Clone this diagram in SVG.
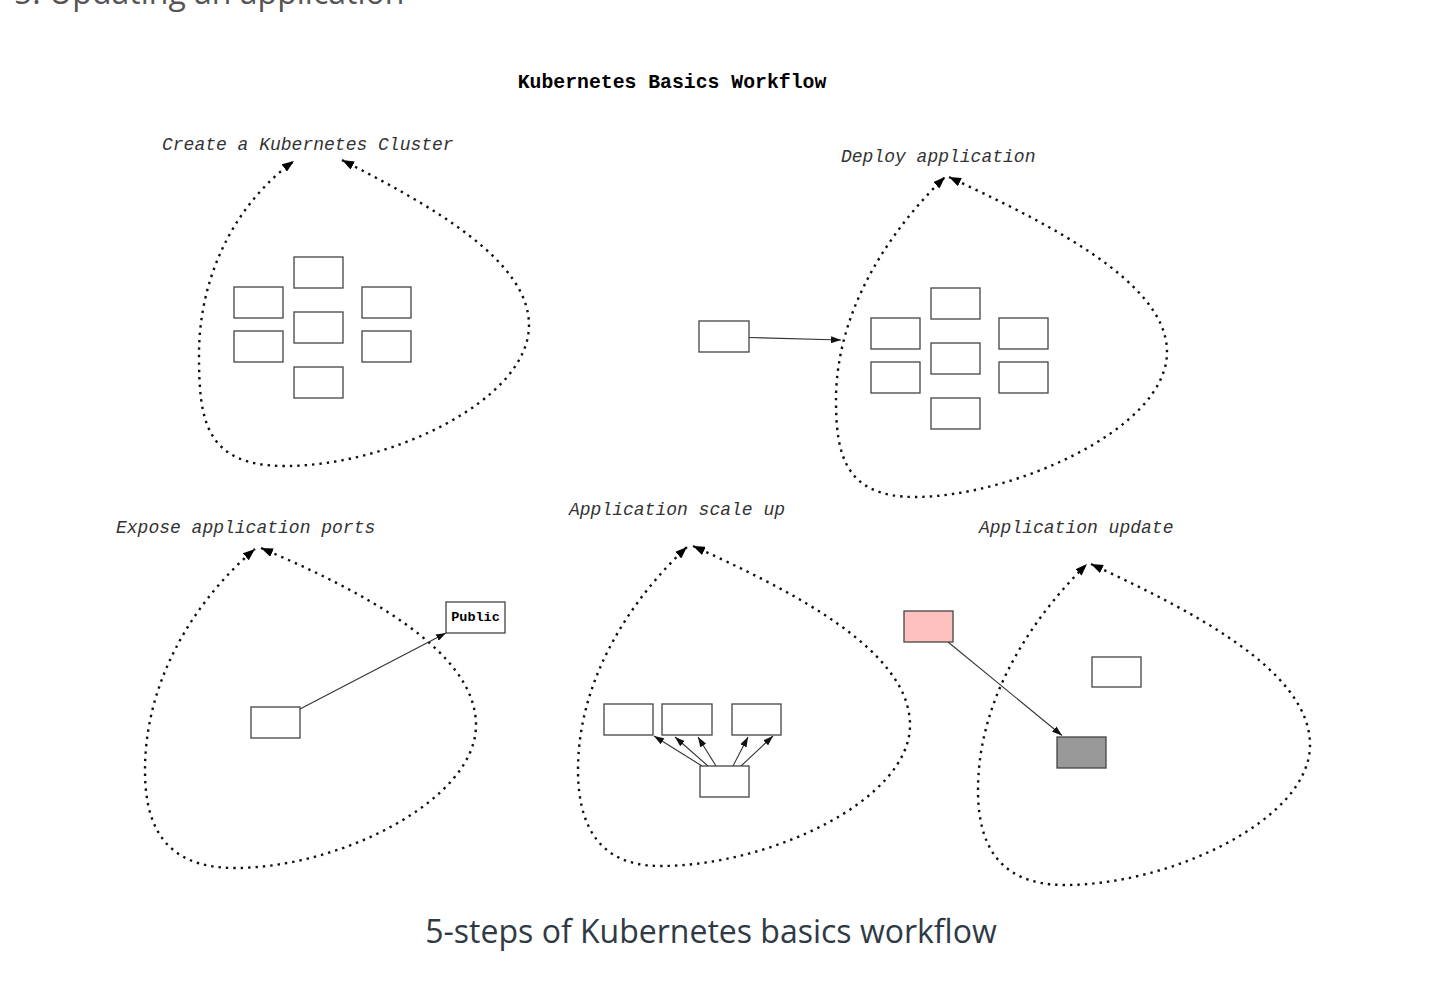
<svg xmlns="http://www.w3.org/2000/svg" width="1430" height="990" viewBox="0 0 1430 990">
<style>
.box{fill:#fff;stroke:#444;stroke-width:1.3}
.loop{fill:none;stroke:#111;stroke-width:2.4;stroke-dasharray:2.4 5;marker-start:url(#lh);marker-end:url(#lh)}
.ln{fill:none;stroke:#333;stroke-width:1.1;marker-end:url(#sh)}
.lbl{font-family:"Liberation Mono","Courier New",monospace;font-style:italic;font-size:18px;fill:#333}
</style>
<defs>
<marker id="lh" viewBox="0 0 12 9" refX="12" refY="4.5" markerWidth="12" markerHeight="9" markerUnits="userSpaceOnUse" orient="auto-start-reverse"><path d="M0,0 L12,4.5 L0,9 z" fill="#000"/></marker>
<marker id="sh" viewBox="0 0 10 7" refX="10" refY="3.5" markerWidth="10" markerHeight="7" markerUnits="userSpaceOnUse" orient="auto"><path d="M0,0 L10,3.5 L0,7 z" fill="#111"/></marker>
</defs>
<rect width="1430" height="990" fill="#fff"/>
<text x="14" y="4" font-family="Open Sans, sans-serif" font-size="32" fill="#555">5. Updating an application</text>
<text x="672" y="88" text-anchor="middle" font-family="Liberation Mono, monospace" font-weight="bold" font-size="19.8" fill="#000">Kubernetes Basics Workflow</text>

<g id="connectors">
<path class="loop" d="M342,160 C430,205 529,260 529,325 C529,400 390,466 285,466 C205,466 199,420 199,355 C199,270 240,200 294,161"/>
<path class="loop" d="M949,177 C1040,220 1167,280 1167,352 C1167,430 1010,497 915,497 C845,497 836,455 836,400 C836,310 890,230 945,177"/>
<path class="loop" d="M261,548 C360,590 476,650 476,725 C476,800 340,868 235,868 C160,868 145,820 145,770 C145,680 195,600 255,549"/>
<path class="loop" d="M693,546 C790,590 910,650 910,725 C910,800 770,866 660,866 C595,866 578,820 578,770 C578,680 630,600 687,547"/>
<path class="loop" d="M1091,564 C1190,610 1310,670 1310,745 C1310,820 1170,885 1065,885 C995,885 978,840 978,790 C978,700 1030,620 1087,564"/>
<path class="ln" d="M749,337.5 L841,340"/>
<path class="ln" d="M300,709 L446,633"/>
<path class="ln" d="M702,766 L654,736"/>
<path class="ln" d="M708,766 L675,737"/>
<path class="ln" d="M716,766 L698,737"/>
<path class="ln" d="M733,766 L748,737"/>
<path class="ln" d="M741,766 L773,736"/>
<path class="ln" d="M948,642 L1062,735.5"/>
</g>

<g id="step1">
<text class="lbl" x="162" y="150">Create a Kubernetes Cluster</text>
<rect class="box" x="294" y="257" width="49" height="31"/>
<rect class="box" x="294" y="312" width="49" height="31"/>
<rect class="box" x="294" y="367" width="49" height="31"/>
<rect class="box" x="234" y="287" width="49" height="31"/>
<rect class="box" x="234" y="331" width="49" height="31"/>
<rect class="box" x="362" y="287" width="49" height="31"/>
<rect class="box" x="362" y="331" width="49" height="31"/>
</g>

<g id="step2">
<text class="lbl" x="841" y="162">Deploy application</text>
<rect class="box" x="699" y="321" width="50" height="31"/>
<rect class="box" x="931" y="288" width="49" height="31"/>
<rect class="box" x="931" y="343" width="49" height="31"/>
<rect class="box" x="931" y="398" width="49" height="31"/>
<rect class="box" x="871" y="318" width="49" height="31"/>
<rect class="box" x="871" y="362" width="49" height="31"/>
<rect class="box" x="999" y="318" width="49" height="31"/>
<rect class="box" x="999" y="362" width="49" height="31"/>
</g>

<g id="step3">
<text class="lbl" x="116" y="533">Expose application ports</text>
<rect class="box" x="251" y="707" width="49" height="31"/>
<rect class="box" x="446" y="602" width="59" height="31"/>
<text x="475.5" y="621" text-anchor="middle" font-family="Liberation Mono, monospace" font-weight="bold" font-size="13.5" fill="#000">Public</text>
</g>

<g id="step4">
<text class="lbl" x="569" y="515">Application scale up</text>
<rect class="box" x="604" y="704" width="49" height="31"/>
<rect class="box" x="662" y="704" width="50" height="31"/>
<rect class="box" x="732" y="704" width="49" height="31"/>
<rect class="box" x="700" y="766" width="49" height="31"/>
</g>

<g id="step5">
<text class="lbl" x="979" y="533">Application update</text>
<rect class="box" x="904" y="611" width="49" height="31" style="fill:#ffc0c0"/>
<rect class="box" x="1092" y="657" width="49" height="30"/>
<rect class="box" x="1057" y="737" width="49" height="31" style="fill:#999"/>
</g>

<text x="711" y="943" text-anchor="middle" font-family="Open Sans, sans-serif" font-size="32" fill="#303a45">5-steps of Kubernetes basics workflow</text>
</svg>
